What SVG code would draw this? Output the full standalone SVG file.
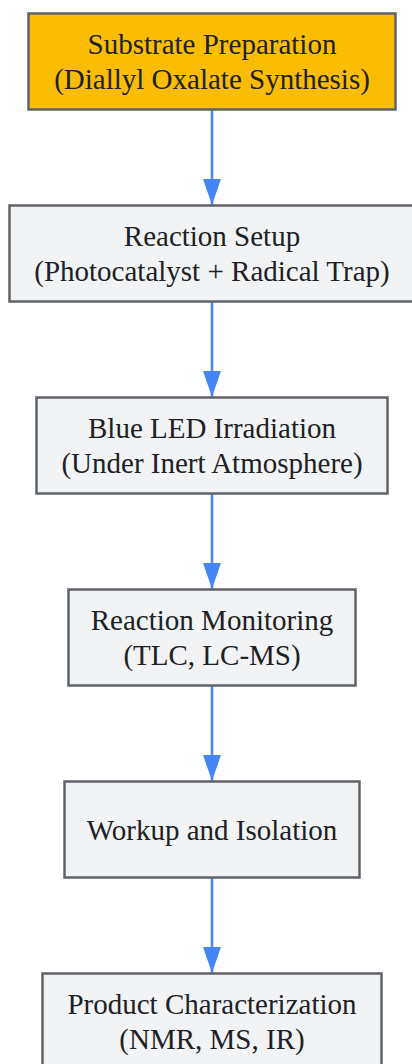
<svg xmlns="http://www.w3.org/2000/svg" width="412" height="1064" viewBox="0 0 412 1064">
<defs>
<style>
.box{fill:#F1F3F4;stroke:#5F6368;stroke-width:2.5}
.start{fill:#FBBC04;stroke:#5F6368;stroke-width:2.5}
.lbl{font-family:"Liberation Serif","Times New Roman",serif;font-size:29px;fill:#202124;text-anchor:middle}
.edge{stroke:#4285F4;stroke-width:2.5;fill:none}
</style>
<marker id="arr" markerWidth="26" markerHeight="18" refX="26" refY="9" orient="auto" markerUnits="userSpaceOnUse" viewBox="0 0 26 18">
<path d="M0,0 L26,9 L0,18 Z" fill="#4285F4"/>
</marker>
</defs>
<rect width="412" height="1064" fill="#FFFFFF"/>
<g id="edges">
<line class="edge" x1="212" y1="110" x2="212" y2="205" marker-end="url(#arr)"/>
<line class="edge" x1="212" y1="302" x2="212" y2="397" marker-end="url(#arr)"/>
<line class="edge" x1="212" y1="494" x2="212" y2="589" marker-end="url(#arr)"/>
<line class="edge" x1="212" y1="686" x2="212" y2="781" marker-end="url(#arr)"/>
<line class="edge" x1="212" y1="878" x2="212" y2="973" marker-end="url(#arr)"/>
</g>
<g id="n1">
<rect class="start" x="28.5" y="13.5" width="367" height="96"/>
<text class="lbl" x="212" y="54">Substrate Preparation</text>
<text class="lbl" x="212" y="89">(Diallyl Oxalate Synthesis)</text>
</g>
<g id="n2">
<rect class="box" x="9.5" y="205.5" width="405" height="96"/>
<text class="lbl" x="212" y="246">Reaction Setup</text>
<text class="lbl" x="212" y="281">(Photocatalyst + Radical Trap)</text>
</g>
<g id="n3">
<rect class="box" x="36.5" y="397.5" width="351" height="96"/>
<text class="lbl" x="212" y="438">Blue LED Irradiation</text>
<text class="lbl" x="212" y="473">(Under Inert Atmosphere)</text>
</g>
<g id="n4">
<rect class="box" x="68.5" y="589.5" width="287" height="96"/>
<text class="lbl" x="212" y="630">Reaction Monitoring</text>
<text class="lbl" x="212" y="665">(TLC, LC-MS)</text>
</g>
<g id="n5">
<rect class="box" x="64.5" y="781.5" width="295" height="96"/>
<text class="lbl" x="212" y="840">Workup and Isolation</text>
</g>
<g id="n6">
<rect class="box" x="42.5" y="973.5" width="339" height="96"/>
<text class="lbl" x="212" y="1014">Product Characterization</text>
<text class="lbl" x="212" y="1049">(NMR, MS, IR)</text>
</g>
</svg>
